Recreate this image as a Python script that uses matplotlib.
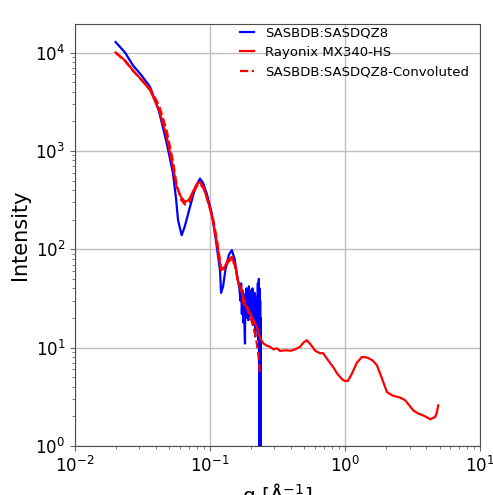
import matplotlib
matplotlib.use("Agg")
from matplotlib import pyplot as plt

# SASBDB:SASDQZ8 (measured)
q_sas = [0.020, 0.0235, 0.0269, 0.031, 0.036, 0.042, 0.0478, 0.0532, 0.056, 0.058,
         0.0617, 0.065, 0.0711, 0.078, 0.0843, 0.089, 0.095, 0.103, 0.110, 0.1186,
         0.1207, 0.125, 0.130, 0.138, 0.145, 0.152, 0.161,
         0.165, 0.168, 0.170, 0.172, 0.174, 0.176, 0.178, 0.1815, 0.182, 0.184,
         0.186, 0.188, 0.190, 0.192, 0.194, 0.196, 0.198, 0.200, 0.202, 0.204,
         0.206, 0.208, 0.210, 0.212, 0.214, 0.216, 0.218, 0.220, 0.222, 0.224,
         0.226, 0.228, 0.230, 0.232, 0.233, 0.234, 0.235, 0.236, 0.237, 0.238]
i_sas = [12800, 10000, 7400, 5900, 4470, 2500, 1200, 593, 330, 197,
         139, 170, 270, 430, 523, 470, 360, 232, 130, 61,
         36, 42, 62, 88, 98, 80, 48,
         40, 30, 45, 22, 38, 18, 33, 11, 35, 20,
         40, 25, 36, 19, 42, 26, 38, 21, 34, 28,
         40, 17, 30, 24, 36, 13, 28, 22, 33, 15,
         45, 12, 50, 0.3, 40, 0.2, 30, 0.1, 20, 0.1]

# Rayonix MX340-HS (simulated)
q_ray = [0.020, 0.0235, 0.0269, 0.031, 0.036, 0.042, 0.0478, 0.0530, 0.0567, 0.061,
         0.0653, 0.070, 0.075, 0.080, 0.0843, 0.090, 0.097, 0.105, 0.112, 0.1207,
         0.128, 0.136, 0.145, 0.153, 0.161, 0.172, 0.177, 0.188, 0.198, 0.210,
         0.222, 0.235, 0.247, 0.262, 0.278, 0.295, 0.312, 0.330, 0.360, 0.395,
         0.427, 0.464, 0.490, 0.520, 0.555, 0.600, 0.653, 0.687, 0.740, 0.815,
         0.870, 0.918, 0.960, 1.00, 1.05, 1.12, 1.22, 1.33, 1.40, 1.48,
         1.60, 1.72, 1.88, 2.04, 2.25, 2.55, 2.78, 2.98, 3.19, 3.45,
         3.78, 4.05, 4.27, 4.45, 4.64, 4.78, 4.89]
i_ray = [10000, 8300, 6600, 5300, 4140, 2600, 1390, 700, 430, 340,
         303, 320, 390, 460, 484, 420, 300, 197, 120, 61,
         66, 78, 83.5, 70, 48, 38, 28, 26, 22.4, 19,
         16.2, 12.5, 11.1, 10.5, 10.2, 9.6, 9.85, 9.25, 9.4, 9.3,
         9.6, 10.2, 11.2, 11.9, 10.8, 9.3, 8.76, 8.8, 7.6, 6.36,
         5.5, 5.03, 4.7, 4.58, 4.6, 5.4, 7.0, 8.03, 8.0, 7.85,
         7.4, 6.62, 4.8, 3.54, 3.25, 3.11, 2.92, 2.6, 2.31, 2.15,
         2.05, 1.95, 1.87, 1.92, 1.97, 2.2, 2.59]

# SASBDB:SASDQZ8-Convoluted
q_conv = [0.020, 0.0235, 0.0269, 0.031, 0.036, 0.042, 0.0478, 0.0530, 0.0567, 0.061,
          0.0653, 0.070, 0.075, 0.080, 0.0843, 0.090, 0.097, 0.105, 0.112, 0.1207,
          0.128, 0.136, 0.145, 0.153, 0.161, 0.172, 0.180, 0.190, 0.200, 0.210,
          0.220, 0.228, 0.234]
i_conv = [10000, 8200, 6500, 5300, 4300, 2900, 1600, 800, 450, 320,
          285, 300, 370, 440, 465, 410, 300, 210, 130, 66,
          62, 74, 80, 68, 47, 36, 30, 24, 20, 16,
          12, 8.5, 5.5]

fig = plt.figure(figsize=(4.93, 4.95), dpi=100)
ax = fig.add_axes([0.152, 0.099, 0.822, 0.852])

ax.loglog(q_sas, i_sas, color='b', lw=1.6, label='SASBDB:SASDQZ8')
ax.loglog(q_ray, i_ray, color='r', lw=1.6, label='Rayonix MX340-HS')
ax.loglog(q_conv, i_conv, color='r', lw=1.6, ls='--', label='SASBDB:SASDQZ8-Convoluted')

ax.set_xlim(1e-2, 1e1)
ax.set_ylim(1, 1.94e4)
ax.grid(True, which='major', color='0.75', lw=1)
ax.set_axisbelow(True)
for s in ax.spines.values():
    s.set_color('0.3')
ax.tick_params(which='both', colors='0.4', labelcolor='black', labelsize=12)

ax.set_xlabel('q [Å$^{-1}$]', fontsize=14.5)
ax.set_ylabel('Intensity', fontsize=15)
ax.legend(loc='upper right', frameon=False, fontsize=9.5, handlelength=1.05,
          borderaxespad=0, bbox_to_anchor=(0.985, 1.008))

fig.savefig('out.png', dpi=100)
